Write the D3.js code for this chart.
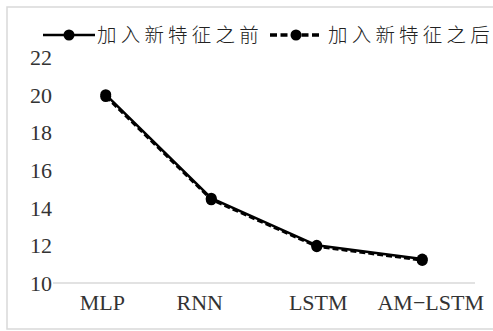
<!DOCTYPE html>
<html><head><meta charset="utf-8">
<script src="https://cdn.jsdelivr.net/npm/d3@7"></script>
<style>body{margin:0;background:#fff}</style>
</head><body>
<script>
const categories = ["MLP", "RNN", "LSTM", "AM−LSTM"];
const before = [20.0, 14.5, 12.0, 11.27];
const after = [19.9, 14.42, 11.93, 11.2];
const seriesNames = ["加入新特征之前", "加入新特征之后"];
const yTicks = [10, 12, 14, 16, 18, 20, 22];

const W = 493, H = 331;
const svg = d3.select("body").append("svg").attr("width", W).attr("height", H);
svg.append("rect").attr("x", 7).attr("y", 7).attr("width", 500).attr("height", 322)
  .attr("fill", "#fff").attr("stroke", "#d9d9d9").attr("stroke-width", 1.5);

const x = d3.scalePoint().domain(categories).range([53, 475]).padding(0.5);
const y = d3.scaleLinear().domain([10, 22]).range([283, 57]);

svg.append("line").attr("x1", 53).attr("x2", 475).attr("y1", y(10)).attr("y2", y(10))
  .attr("stroke", "#d9d9d9").attr("stroke-width", 1.5);

const serif = "'Liberation Serif','Times New Roman',serif";
const yAxis = d3.axisLeft(y).tickValues(yTicks).tickSize(0).tickPadding(0).tickFormat(d3.format("d"));
const ga = svg.append("g").attr("transform", "translate(52,0)").call(yAxis);
ga.select(".domain").remove();
ga.selectAll("text").attr("font-family", serif).attr("font-size", 22).attr("fill", "#333").attr("dy", "0.34em");

const xAxis = d3.axisBottom(x).tickSize(0).tickPadding(0);
const gx = svg.append("g").attr("transform", "translate(0,303)").call(xAxis);
gx.select(".domain").remove();
gx.selectAll("text").attr("font-family", serif).attr("font-size", 22).attr("fill", "#333").attr("dy", "0.34em");
const dxs = [-4, -12, 1, 8];
gx.selectAll(".tick text").attr("dx", (d,i)=>dxs[i]);

const line = d3.line().x((d,i)=>x(categories[i])).y(d=>y(d));

svg.append("path").datum(after).attr("d", line).attr("fill", "none")
  .attr("stroke", "#000").attr("stroke-width", 2.5).attr("stroke-dasharray", "6,3");
svg.append("path").datum(before).attr("d", line).attr("fill", "none")
  .attr("stroke", "#000").attr("stroke-width", 2.5);

svg.selectAll("circle.a").data(after).enter().append("circle")
  .attr("cx", (d,i)=>x(categories[i])).attr("cy", d=>y(d)).attr("r", 5.5).attr("fill", "#000");
svg.selectAll("circle.b").data(before).enter().append("circle")
  .attr("cx", (d,i)=>x(categories[i])).attr("cy", d=>y(d)).attr("r", 5.5).attr("fill", "#000");

const cjk = "'Noto Sans CJK SC',sans-serif";
const leg = [{x0: 43, dash: null, tx: 97}, {x0: 270, dash: "7,3.5", tx: 328}];
leg.forEach((l, i) => {
  svg.append("line").attr("x1", l.x0).attr("x2", l.x0 + 52).attr("y1", 35).attr("y2", 35)
    .attr("stroke", "#000").attr("stroke-width", l.dash ? 3.5 : 2.5).attr("stroke-dasharray", l.dash);
  svg.append("circle").attr("cx", l.x0 + 26).attr("cy", 35).attr("r", 5.5).attr("fill", "#000");
  svg.append("text").attr("x", l.tx).attr("y", 35).attr("dy", "0.36em")
    .attr("font-family", cjk).attr("font-size", 19.5).attr("font-weight", 300)
    .attr("letter-spacing", 4.2).attr("fill", "#222").text(seriesNames[i]);
});
</script>
</body></html>
